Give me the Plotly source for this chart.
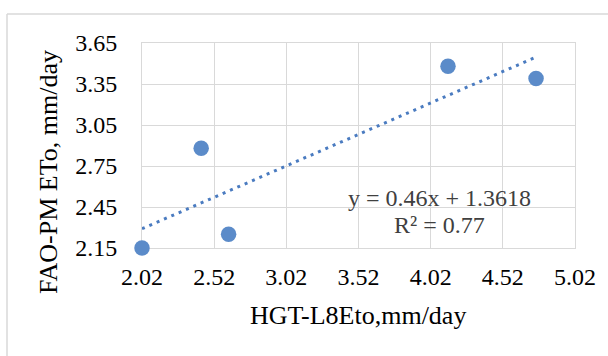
import plotly.graph_objects as go

# Data
hgt_l8_eto = [2.02, 2.43, 2.62, 4.14, 4.75]      # x values, mm/day
fao_pm_eto = [2.15, 2.88, 2.25, 3.48, 3.39]      # y values, mm/day
slope = 0.46
intercept = 1.3618
r_squared = 0.77
x_ticks = [2.02, 2.52, 3.02, 3.52, 4.02, 4.52, 5.02]
y_ticks = [2.15, 2.45, 2.75, 3.05, 3.35, 3.65]

W, H = 608, 356
L, R, T, B = 142, 575, 43, 248  # plot area in pixels

def px_x(p):
    return (p - L) / (R - L)

def px_y(p):
    return (B - p) / (B - T)

trend_x = [min(hgt_l8_eto), max(hgt_l8_eto)]
trend_y = [slope * v + intercept for v in trend_x]

font_family = "Liberation Serif"
grid = "#D9D9D9"

fig = go.Figure()
fig.add_trace(go.Scatter(
    x=trend_x, y=trend_y, mode="lines",
    line=dict(color="#4A7BC0", width=3, dash="3px,5px"),
    hoverinfo="skip", showlegend=False, cliponaxis=False,
))
fig.add_trace(go.Scatter(
    x=hgt_l8_eto, y=fao_pm_eto, mode="markers",
    marker=dict(color="#5B8BC9", size=15.5, line=dict(width=0)),
    showlegend=False, cliponaxis=False,
))

tick_font = dict(size=24, color="#000000", family=font_family)

fig.update_layout(
    width=W, height=H,
    margin=dict(l=L, r=W - R, t=T, b=H - B, pad=0, autoexpand=False),
    paper_bgcolor="white", plot_bgcolor="white",
    font=dict(family=font_family, color="#000000"),
    xaxis=dict(
        range=[x_ticks[0], x_ticks[-1]], tickmode="array", tickvals=x_ticks,
        ticktext=[f"{v:.2f}" for v in x_ticks],
        showgrid=True, gridcolor=grid, gridwidth=1,
        showline=True, linecolor=grid, linewidth=1, mirror=True,
        zeroline=False, ticks="outside", ticklen=7,
        tickcolor="rgba(0,0,0,0)", tickfont=tick_font, automargin=False,
        layer="below traces",
    ),
    yaxis=dict(
        range=[y_ticks[0], y_ticks[-1]], tickmode="array", tickvals=y_ticks,
        ticktext=[f"{v:.2f}" for v in y_ticks],
        showgrid=True, gridcolor=grid, gridwidth=1,
        showline=True, linecolor=grid, linewidth=1, mirror=True,
        zeroline=False, ticks="outside", ticklen=19,
        tickcolor="rgba(0,0,0,0)", tickfont=tick_font, automargin=False,
        layer="below traces",
    ),
    annotations=[
        dict(text=f"y = {slope}x + {intercept}", xref="paper", yref="paper",
             x=px_x(439), y=px_y(198), showarrow=False,
             xanchor="center", yanchor="middle",
             font=dict(size=24, color="#404040", family=font_family)),
        dict(text=f"R² = {r_squared}", xref="paper", yref="paper",
             x=px_x(439), y=px_y(225), showarrow=False,
             xanchor="center", yanchor="middle",
             font=dict(size=24, color="#404040", family=font_family)),
        dict(text="HGT-L8Eto,mm/day", xref="paper", yref="paper",
             x=px_x(358), y=px_y(315), showarrow=False,
             xanchor="center", yanchor="middle",
             font=dict(size=26, color="#000000", family=font_family)),
        dict(text="FAO-PM ETo, mm/day", xref="paper", yref="paper",
             x=px_x(48), y=px_y(172), showarrow=False, textangle=-90,
             xanchor="center", yanchor="middle",
             font=dict(size=26, color="#000000", family=font_family)),
    ],
    shapes=[
        dict(type="line", xref="paper", yref="paper", layer="below",
             x0=px_x(7), x1=px_x(W + 5), y0=px_y(14), y1=px_y(14),
             line=dict(color=grid, width=1.5)),
        dict(type="line", xref="paper", yref="paper", layer="below",
             x0=px_x(7), x1=px_x(7), y0=px_y(14), y1=px_y(H + 5),
             line=dict(color=grid, width=1.5)),
    ],
)

fig.write_html(
    "out.html",
    config={"displayModeBar": False},
    post_script="document.body.style.margin='0';document.body.style.overflow='hidden';",
)
